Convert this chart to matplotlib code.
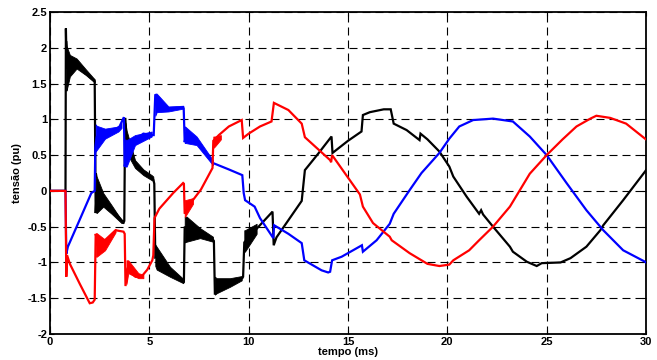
import matplotlib
matplotlib.use("Agg")
import matplotlib.pyplot as plt

# ---------------- data ----------------
black_t = [0, 0.78, 0.80, 0.84, 1.0, 1.35, 1.7, 2.2, 2.25, 2.3, 2.35, 2.7, 3.2, 3.7, 3.74,
           3.78, 3.86, 4.3, 4.8, 5.2, 5.25, 5.3, 5.4, 6.0, 6.7, 6.74, 6.78, 7.0, 7.6, 8.2,
           8.25, 8.3, 8.45, 9.0, 9.68, 9.72, 9.78, 10.3, 11.2, 11.26, 11.4, 12.67, 12.83,
           13.5, 14.17, 14.22, 15.0, 15.68, 15.75, 16.1, 16.8, 17.15, 17.3, 17.95, 18.6,
           18.65, 19.0, 19.6, 20.1, 20.3, 20.97, 21.6, 21.7, 21.8, 22.3, 23.15, 23.3, 24.0,
           24.5, 24.75, 25.7, 26.2, 26.3, 27.0, 27.7, 27.85, 28.85, 29.95, 30.0]
black_v = [0, 0, 2.27, 1.72, 1.76, 1.78, 1.66, 1.55, 1.53, -0.31, 0.0, -0.12, -0.28, -0.44, -0.42,
           1.02, 0.68, 0.38, 0.24, 0.16, 0.10, -0.93, -0.92, -1.12, -1.27, -1.27, -0.5, -0.56, -0.6, -0.68,
           -0.7, -1.45, -1.32, -1.27, -1.22, -1.2, -0.72, -0.56, -0.29, -0.76, -0.65, -0.14, 0.29,
           0.52, 0.76, 0.53, 0.7, 0.83, 1.06, 1.1, 1.14, 1.14, 0.94, 0.85, 0.71,
           0.80, 0.72, 0.55, 0.34, 0.2, -0.08, -0.32, -0.27, -0.33, -0.5, -0.78, -0.85, -0.99,
           -1.05, -1.01, -1.0, -0.94, -0.92, -0.78, -0.55, -0.48, -0.13, 0.27, 0.29]

blue_t = [0, 0.78, 0.82, 0.9, 1.5, 2.08, 2.25, 2.28, 2.35, 2.8, 3.35, 3.5, 3.72, 3.76, 3.86,
          4.3, 4.7, 5.15, 5.22, 5.3, 5.45, 6.0, 6.7, 6.73, 6.78, 6.85, 7.4, 8.2, 9.0, 9.68,
          9.75, 9.82, 10.3, 10.57, 11.24, 11.28, 12.0, 12.67, 12.8, 13.67, 14.0, 14.1, 14.2,
          14.68, 15.7, 15.75, 16.44, 17.1, 17.3, 18.1, 18.7, 19.6, 20.1, 20.6, 21.3, 22.3,
          23.3, 24.15, 25.0, 26.0, 27.0, 27.85, 28.85, 29.95, 30.0]
blue_v = [0, 0, -0.88, -0.78, -0.4, -0.03, 0.0, 0.6, 0.75, 0.8, 0.87, 0.9, 1.03, 0.34, 0.52,
          0.71, 0.8, 0.78, 0.78, 1.35, 1.25, 1.14, 1.17, 1.15, 0.68, 0.8, 0.7, 0.39, 0.3, 0.22,
          -0.03, -0.13, -0.22, -0.38, -0.66, -0.48, -0.6, -0.73, -0.97, -1.11, -1.14, -1.13, -0.97,
          -0.92, -0.76, -0.85, -0.69, -0.46, -0.32, 0.01, 0.25, 0.53, 0.73, 0.9, 0.99, 1.01,
          0.97, 0.76, 0.5, 0.11, -0.27, -0.55, -0.83, -0.99, -1.0]

red_t = [0, 0.78, 0.82, 0.86, 1.0, 1.5, 2.0, 2.15, 2.25, 2.3, 2.4, 2.8, 3.3, 3.7, 3.76,
         3.8, 3.9, 4.3, 4.6, 4.9, 5.15, 5.2, 5.26, 5.5, 6.2, 6.7, 6.74, 6.78, 7.0, 7.6,
         8.18, 8.22, 8.5, 9.0, 9.65, 9.72, 10.0, 10.57, 11.15, 11.27, 12.0, 12.67, 12.83,
         14.1, 14.15, 14.2, 15.6, 15.75, 16.26, 17.1, 17.2, 18.1, 18.7, 19.0, 19.6, 20.1,
         20.3, 21.1, 21.6, 22.3, 23.15, 23.65, 24.15, 25.0, 25.8, 26.5, 27.2, 27.5, 28.2,
         29.0, 29.95, 30.0]
red_v = [0, 0, -1.2, -0.9, -1.02, -1.3, -1.57, -1.56, -1.52, -0.6, -0.75, -0.68, -0.55, -0.57, -0.6,
         -1.33, -1.1, -1.2, -1.2, -1.1, -0.97, -0.9, -0.38, -0.25, -0.03, 0.11, 0.1, -0.32, -0.2, 0.02,
         0.32, 0.7, 0.78, 0.9, 0.99, 0.74, 0.8, 0.9, 0.97, 1.23, 1.13, 0.94, 0.75,
         0.43, 0.40, 0.5, -0.05, -0.22, -0.45, -0.64, -0.69, -0.87, -0.97, -1.02, -1.05, -1.03,
         -0.97, -0.83, -0.69, -0.5, -0.22, 0.01, 0.24, 0.5, 0.72, 0.9, 1.01, 1.05, 1.02,
         0.94, 0.73, 0.72]

# envelopes of the high-frequency oscillation bands: (t, low, high)
black_bands = [
    ([0.82, 0.84, 1.0, 1.34, 1.8, 2.18, 2.25], [1.4, 1.41, 1.6, 1.71, 1.62, 1.53, 1.52], [2.1, 2.02, 1.9, 1.85, 1.7, 1.58, 1.56]),
    ([2.32, 2.35, 2.68, 3.1, 3.6, 3.7], [-0.3, -0.31, -0.22, -0.32, -0.45, -0.45], [0.25, 0.2, -0.03, -0.2, -0.41, -0.43]),
    ([3.8, 3.86, 4.28, 4.7, 5.12, 5.2], [0.5, 0.53, 0.32, 0.22, 0.15, 0.14], [0.95, 0.84, 0.43, 0.3, 0.22, 0.2]),
    ([5.3, 5.37, 6.04, 6.71], [-1.05, -1.1, -1.2, -1.29], [-0.75, -0.78, -1.06, -1.23]),
    ([6.78, 6.88, 7.55, 8.2], [-0.72, -0.71, -0.66, -0.71], [-0.36, -0.36, -0.52, -0.64]),
    ([8.3, 8.39, 9.06, 9.65], [-1.45, -1.43, -1.34, -1.25], [-1.2, -1.22, -1.22, -1.19]),
    ([9.78, 9.81, 10.4], [-0.85, -0.85, -0.6], [-0.55, -0.55, -0.46]),
]
blue_bands = [
    ([2.3, 2.35, 2.77, 3.44, 3.6], [0.55, 0.57, 0.73, 0.83, 0.88], [0.93, 0.91, 0.87, 0.9, 0.95]),
    ([3.78, 3.86, 4.28, 5.12], [0.34, 0.34, 0.64, 0.76], [0.72, 0.71, 0.78, 0.83]),
    ([5.3, 5.37, 5.96, 6.71], [1.05, 1.1, 1.11, 1.15], [1.36, 1.36, 1.18, 1.19]),
    ([6.78, 6.8, 7.38, 8.2], [0.67, 0.67, 0.64, 0.36], [0.9, 0.9, 0.76, 0.43]),
]
red_bands = [
    ([2.32, 2.35, 2.77, 3.3], [-0.92, -0.92, -0.83, -0.58], [-0.59, -0.59, -0.68, -0.53]),
    ([3.85, 3.94, 4.45, 4.7], [-1.3, -1.15, -1.22, -1.22], [-0.97, -0.97, -1.15, -1.17]),
    ([6.78, 6.8, 7.2], [-0.36, -0.36, -0.18], [-0.13, -0.13, -0.1]),
    ([8.22, 8.3, 8.6], [0.6, 0.62, 0.72], [0.76, 0.76, 0.78]),
]

x_ticks = [0, 5, 10, 15, 20, 25, 30]
y_ticks = [-2, -1.5, -1, -0.5, 0, 0.5, 1, 1.5, 2, 2.5]
y_ticklabels = ["-2", "-1.5", "-1", "-0.5", "0", "0.5", "1", "1.5", "2", "2.5"]
x_label = "tempo (ms)"
y_label = "tensão (pu)"

# ---------------- figure ----------------
plt.rcParams['font.family'] = ['Liberation Sans', 'DejaVu Sans']
fig = plt.figure(figsize=(6.57, 3.60), dpi=100)
ax = fig.add_axes([50 / 657, 26 / 360, 596 / 657, 322 / 360])

series = [(black_t, black_v, black_bands, 'black'),
          (blue_t, blue_v, blue_bands, '#0000ff'),
          (red_t, red_v, red_bands, '#ff0000')]
for t, v, bands, c in series:
    for bt, lo, hi in bands:
        ax.fill_between(bt, lo, hi, color=c, lw=0.6, zorder=3)
    ax.plot(t, v, color=c, lw=1.6, zorder=3, solid_joinstyle='miter')

ax.set_xlim(0, 30)
ax.set_ylim(-2, 2.5)
ax.set_xticks(x_ticks)
ax.set_xticklabels([str(x) for x in x_ticks])
ax.set_yticks(y_ticks)
ax.set_yticklabels(y_ticklabels)
ax.grid(True, color='black', linestyle=(0, (7.2, 4.5)), linewidth=0.8)
ax.set_axisbelow(True)
ax.tick_params(direction='in', length=3, width=0.8, top=True, right=True,
               labelsize=8, pad=2)
for lab in ax.get_xticklabels() + ax.get_yticklabels():
    lab.set_fontweight('bold')
for s in ax.spines.values():
    s.set_linewidth(1.3)
ax.set_xlabel(x_label, fontsize=8, fontweight='bold', labelpad=0)
ax.set_ylabel(y_label, fontsize=8, fontweight='bold', labelpad=4)

fig.savefig("out.png", dpi=100)
